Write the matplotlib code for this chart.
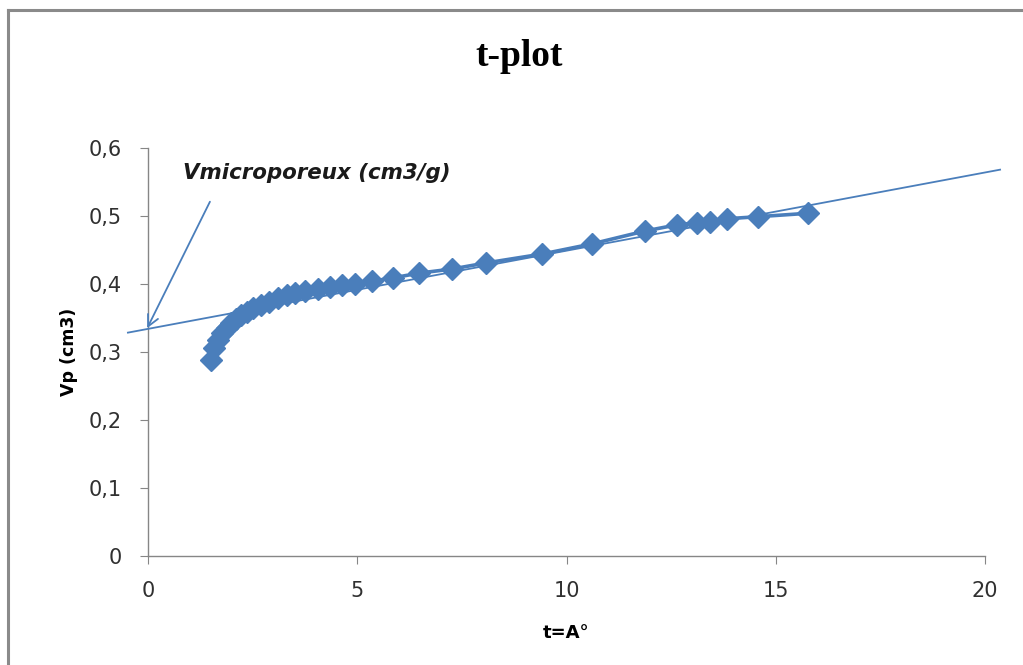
import matplotlib
matplotlib.use("Agg")
import matplotlib.pyplot as plt
from matplotlib.lines import Line2D

# data
t_vals = [1.51, 1.58, 1.68, 1.78, 1.88, 1.98, 2.10, 2.22, 2.36, 2.52, 2.70, 2.90,
          3.10, 3.32, 3.51, 3.75, 4.06, 4.35, 4.64, 4.95, 5.35, 5.85, 6.48, 7.26,
          8.08, 9.41, 10.61, 11.88, 12.64, 13.12, 13.43, 13.84, 14.58, 15.77]
vp_vals = [0.288, 0.306, 0.318, 0.328, 0.336, 0.343, 0.349, 0.354, 0.359, 0.364,
           0.369, 0.374, 0.379, 0.384, 0.387, 0.390, 0.393, 0.396, 0.398, 0.400,
           0.404, 0.409, 0.416, 0.422, 0.431, 0.444, 0.459, 0.478, 0.487, 0.490,
           0.491, 0.496, 0.499, 0.504]
fit_x = [-0.48, 20.36]
fit_intercept = 0.334
fit_slope = 0.0115
x_ticks = [0, 5, 10, 15, 20]
y_ticks = [0, 0.1, 0.2, 0.3, 0.4, 0.5, 0.6]
y_tick_labels = ["0", "0,1", "0,2", "0,3", "0,4", "0,5", "0,6"]
arrow_start = (1.48, 0.521)
arrow_end = (-0.02, 0.335)

blue = "#4A7EBB"
fig = plt.figure(figsize=(10.23, 6.65), dpi=100)
ax = fig.add_axes([148/1023, 1-556/665, 837/1023, 408/665])

ax.plot(t_vals, vp_vals, color=blue, lw=2.6, marker="D", markersize=11,
        markeredgecolor=blue, markerfacecolor=blue, zorder=3)
fit_y = [fit_intercept + fit_slope * x for x in fit_x]
ax.plot(fit_x, fit_y, color=blue, lw=1.3, clip_on=False, zorder=4)

ax.annotate("", xy=arrow_end, xytext=arrow_start,
            arrowprops=dict(arrowstyle="->", color=blue, lw=1.3,
                            mutation_scale=20, shrinkA=0, shrinkB=0),
            annotation_clip=False)
ax.text(0.84, 0.563, "Vmicroporeux (cm3/g)", fontsize=15.4, fontweight="bold",
        fontstyle="italic", family="DejaVu Sans", color="#1a1a1a",
        va="center", ha="left")

ax.set_xlim(0, 20)
ax.set_ylim(0, 0.6)
ax.set_xticks(x_ticks)
ax.set_yticks(y_ticks)
ax.set_yticklabels(y_tick_labels)
for s in ["top", "right"]:
    ax.spines[s].set_visible(False)
for s in ["left", "bottom"]:
    ax.spines[s].set_color("#868686")
    ax.spines[s].set_linewidth(1.0)
ax.tick_params(axis="both", direction="out", length=6, color="#868686",
               labelsize=15, labelcolor="#303030")
ax.tick_params(axis="y", pad=13)
ax.tick_params(axis="x", pad=12)
for lab in ax.get_xticklabels() + ax.get_yticklabels():
    lab.set_family("DejaVu Sans")

ax.set_ylabel("Vp (cm3)", fontsize=12.5, fontweight="bold", family="DejaVu Sans")
ax.yaxis.set_label_coords(-0.084, 0.5)
ax.set_xlabel("t=A°", fontsize=13, fontweight="bold", family="DejaVu Sans")
ax.xaxis.set_label_coords(0.5, -0.167)

fig.text(519/1023, 1-57/665, "t-plot", fontsize=27, fontweight="bold",
         family="Liberation Serif", ha="center", va="center")

# outer chart frame (left and top edges visible)
fig.add_artist(Line2D([8/1023, 8/1023], [0, 1-10/665], color="#8a8a8a", lw=2.2,
                      transform=fig.transFigure))
fig.add_artist(Line2D([8/1023, 1], [1-10/665, 1-10/665], color="#8a8a8a", lw=2.2,
                      transform=fig.transFigure))

fig.savefig("out.png", dpi=100)
